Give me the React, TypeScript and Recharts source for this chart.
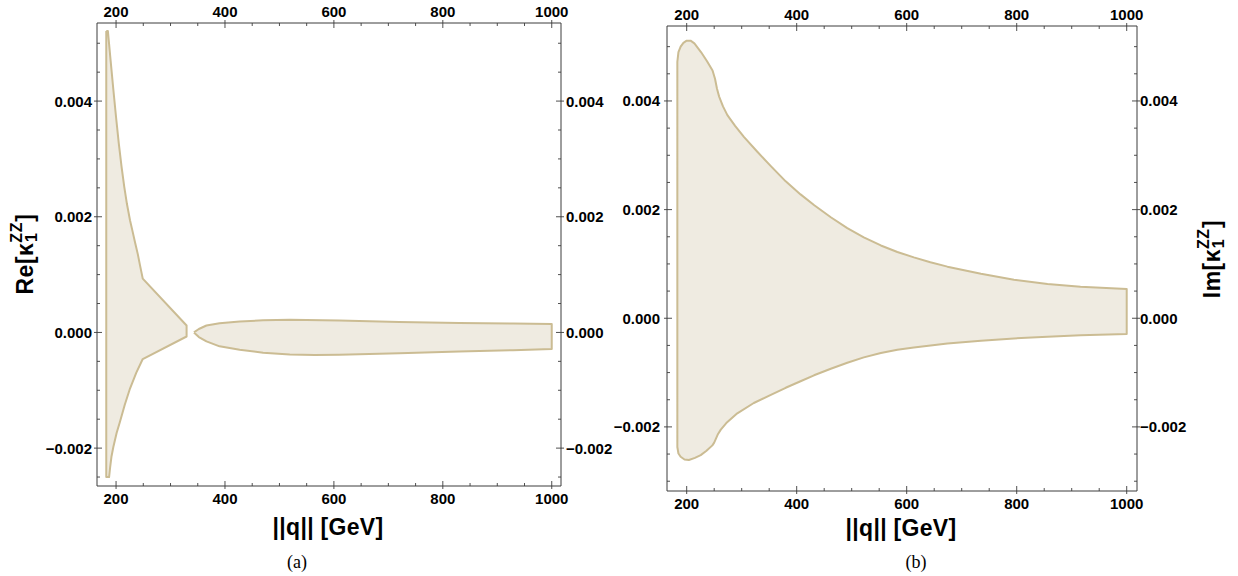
import { ScatterChart, Scatter, XAxis, YAxis } from 'recharts'

// tick values
const qMajorTicks = [200, 400, 600, 800, 1000]
const qMinorTicks = [250, 300, 350, 450, 500, 550, 650, 700, 750, 850, 900, 950]
const kappaMajorTicks = [-0.002, 0, 0.002, 0.004]
const kappaMinorTicks = [-0.003, -0.0025, -0.0015, -0.001, -0.0005, 0.0005, 0.001, 0.0015, 0.0025, 0.003, 0.0035, 0.0045, 0.005]

// (a) Re[kappa_1^ZZ] : [||q|| GeV, value]
const reLowBranchUpper = [
  [182, 0.00521], [185, 0.00521], [190, 0.0047], [195, 0.0042], [200, 0.00372], [205, 0.00327],
  [210, 0.00287], [215, 0.00252], [220, 0.00222], [225.6, 0.00194], [230, 0.00176], [235, 0.00155],
  [240, 0.00135], [244, 0.00116], [249, 0.00093], [329.5, 0.00012],
]
const reLowBranchLower = [
  [182, -0.0025], [187.2, -0.0025], [189, -0.00234], [191.5, -0.00215], [195, -0.00198], [201, -0.00174],
  [207.3, -0.00154], [216, -0.00125], [225.6, -0.00097], [237, -0.0007], [249, -0.00046], [329.5, -0.00007],
]
const reHighBranchUpper = [
  [343, 0], [352, 0.00006], [366, 0.00012], [390, 0.00016], [427, 0.00019], [470, 0.00021],
  [519, 0.000218], [610, 0.000207], [720, 0.00018], [830, 0.000165], [929, 0.000153], [1000, 0.000144],
]
const reHighBranchLower = [
  [343, 0], [352, -0.00008], [366, -0.000155], [390, -0.00024], [427, -0.0003], [470, -0.00035],
  [519, -0.000382], [565, -0.00039], [610, -0.000386], [720, -0.00036], [830, -0.00033], [929, -0.000308],
  [1000, -0.000285],
]

// (b) Im[kappa_1^ZZ]
const imUpper = [
  [183, 0.00472], [185, 0.0049], [189, 0.005], [194, 0.00507], [200, 0.00511], [207, 0.00511],
  [214, 0.00506], [226, 0.0049], [237, 0.00473], [247, 0.00456], [251.5, 0.00441], [255, 0.00423],
  [259, 0.00408], [266, 0.0039], [274, 0.00374], [288, 0.00354], [304, 0.00334], [328, 0.00307],
  [353, 0.0028], [380, 0.00252], [407, 0.00228], [432, 0.00208], [462, 0.00186], [492, 0.00166],
  [522, 0.00149], [553, 0.00134], [583, 0.00122], [613, 0.00112], [643, 0.00103], [674, 0.00095],
  [735, 0.00082], [795, 0.00071], [856, 0.00063], [916, 0.00058], [1000, 0.00054],
]
const imLower = [
  [183, -0.00237], [185, -0.00249], [189, -0.00255], [196, -0.0026], [204, -0.00261], [215, -0.00257],
  [225.5, -0.00252], [236, -0.00244], [246.7, -0.00234], [250, -0.00229], [253, -0.00222], [257, -0.00213],
  [262, -0.00205], [272, -0.00193], [292, -0.00175], [322, -0.00156], [353, -0.00141], [380, -0.00128],
  [407, -0.00116], [431.5, -0.00105], [462, -0.00093], [492, -0.00082], [522, -0.00072], [553, -0.00064],
  [583, -0.00058], [613, -0.00054], [674, -0.000465], [735, -0.000412], [795, -0.000372], [856, -0.00034],
  [916, -0.000314], [1000, -0.000289],
]

const FONT = '"Liberation Sans", Arial, sans-serif'
const FRAME = '#3c3c3c'
const STROKE = '#cbbc93'
const FILL = '#efebe1'

const toPolygon = (upper: number[][], lower: number[][]) =>
  [...upper, ...[...lower].reverse(), upper[0]].map(([q, v]) => ({ q, v }))

const isMajor = (v: number, majors: number[]) => majors.some((m) => Math.abs(m - v) < 1e-9)
const fmtQ = (v: number) => String(v)
const fmtKappa = (v: number) => (v < -1e-12 ? '\u2212' : '') + Math.abs(v).toFixed(3)

function FrameTick(props: any) {
  const { x, y, payload, side, majors, format, gap } = props
  const v = payload.value
  const major = isMajor(v, majors)
  const len = major ? 5 : 3
  const out = major ? 3 : 0
  let l: number[]
  let tx = x
  let ty = y
  let anchor = 'middle'
  if (side === 'bottom') {
    l = [x, y + out, x, y - len]
    ty = y + 12
  } else if (side === 'top') {
    l = [x, y - out, x, y + len]
    ty = y - 12
  } else if (side === 'left') {
    l = [x - out, y, x + len, y]
    tx = x - gap
    anchor = 'end'
  } else {
    l = [x + out, y, x - len, y]
    tx = x + gap
    anchor = 'start'
  }
  return (
    <g>
      <line x1={l[0]} y1={l[1]} x2={l[2]} y2={l[3]} stroke={FRAME} strokeWidth={0.9} />
      {major && (
        <text x={tx} y={ty} textAnchor={anchor} dominantBaseline="central" fontFamily={FONT}
          fontWeight="bold" fontSize={15} fill="#000">
          {format(v)}
        </text>
      )}
    </g>
  )
}

function Panel({ left, width, plot, xDomain, yDomain, polygons, leftGap, rightGap }: any) {
  const height = 576
  const qTicks = [...qMajorTicks, ...qMinorTicks].filter((t) => t >= xDomain[0] && t <= xDomain[1])
  const kTicks = [...kappaMajorTicks, ...kappaMinorTicks].filter((t) => t >= yDomain[0] && t <= yDomain[1])
  const axisLine = { stroke: FRAME, strokeWidth: 1 }
  const xTick = (side: string) => (p: any) => <FrameTick {...p} side={side} majors={qMajorTicks} format={fmtQ} />
  const yTick = (side: string, gap: number) => (p: any) => (
    <FrameTick {...p} side={side} gap={gap} majors={kappaMajorTicks} format={fmtKappa} />
  )
  return (
    <div style={{ position: 'absolute', left, top: 0 }}>
      <ScatterChart width={width} height={height} margin={{ top: 0, right: 0, bottom: 0, left: 0 }}>
        <XAxis xAxisId={0} type="number" dataKey="q" domain={xDomain} allowDataOverflow ticks={qTicks}
          interval={0} orientation="bottom" height={height - plot.bottom} tickSize={0} tickMargin={0}
          tickLine={false} axisLine={axisLine} tick={xTick('bottom')} />
        <XAxis xAxisId="top" type="number" dataKey="q" domain={xDomain} allowDataOverflow ticks={qTicks}
          interval={0} orientation="top" height={plot.top} tickSize={0} tickMargin={0}
          tickLine={false} axisLine={axisLine} tick={xTick('top')} />
        <YAxis yAxisId={0} type="number" dataKey="v" domain={yDomain} allowDataOverflow ticks={kTicks}
          interval={0} orientation="left" width={plot.left} tickSize={0} tickMargin={0}
          tickLine={false} axisLine={axisLine} tick={yTick('left', leftGap)} />
        <YAxis yAxisId="right" type="number" dataKey="v" domain={yDomain} allowDataOverflow ticks={kTicks}
          interval={0} orientation="right" width={width - plot.right} tickSize={0} tickMargin={0}
          tickLine={false} axisLine={axisLine} tick={yTick('right', rightGap)} />
        {polygons.map((poly: any, i: number) => (
          <Scatter key={i} data={poly} xAxisId={0} yAxisId={0} isAnimationActive={false}
            line={{ stroke: STROKE, strokeWidth: 2, fill: FILL, strokeLinejoin: 'round' }}
            shape={() => <g />} />
        ))}
      </ScatterChart>
    </div>
  )
}

function KappaLabel({ x, y, prefix }: any) {
  return (
    <text transform={`translate(${x},${y}) rotate(-90)`} textAnchor="middle" dominantBaseline="central"
      fontFamily={FONT} fontWeight="bold" fontSize={23} letterSpacing={0.5} fill="#000">
      {prefix}[κ
      <tspan fontSize={16} dy={-9}>ZZ</tspan>
      <tspan fontSize={16} dx={-20} dy={15}>1</tspan>
      <tspan dx={11} dy={-6}>]</tspan>
    </text>
  )
}

export default function App() {
  return (
    <div style={{ position: 'absolute', left: 0, top: 0, width: 1238, height: 576, background: '#fff' }}>
      <style>{'.recharts-surface { overflow: visible; }'}</style>
      <Panel left={0} width={620} plot={{ left: 97, right: 561, top: 23, bottom: 486 }}
        xDomain={[165, 1017]} yDomain={[-0.002655, 0.00535]} leftGap={5} rightGap={5}
        polygons={[toPolygon(reLowBranchUpper, reLowBranchLower), toPolygon(reHighBranchUpper, reHighBranchLower)]} />
      <Panel left={620} width={618} plot={{ left: 47, right: 517, top: 26, bottom: 491 }}
        xDomain={[164.2, 1018.7]} yDomain={[-0.00318, 0.00538]} leftGap={7} rightGap={3}
        polygons={[toPolygon(imUpper, imLower)]} />
      <svg width={1238} height={576} style={{ position: 'absolute', left: 0, top: 0, pointerEvents: 'none' }}>
        <text x={328} y={527} textAnchor="middle" dominantBaseline="central" fontFamily={FONT}
          fontWeight="bold" fontSize={23} letterSpacing={0.3}>||q|| [GeV]</text>
        <text x={901} y={528} textAnchor="middle" dominantBaseline="central" fontFamily={FONT}
          fontWeight="bold" fontSize={23} letterSpacing={0.3}>||q|| [GeV]</text>
        <KappaLabel x={25} y={254} prefix="Re" />
        <KappaLabel x={1212} y={259} prefix="Im" />
        <text x={297} y={562} textAnchor="middle" dominantBaseline="central"
          fontFamily='"Liberation Serif", "DejaVu Serif", serif' fontSize={18}>(a)</text>
        <text x={916} y={562} textAnchor="middle" dominantBaseline="central"
          fontFamily='"Liberation Serif", "DejaVu Serif", serif' fontSize={18}>(b)</text>
      </svg>
    </div>
  )
}
